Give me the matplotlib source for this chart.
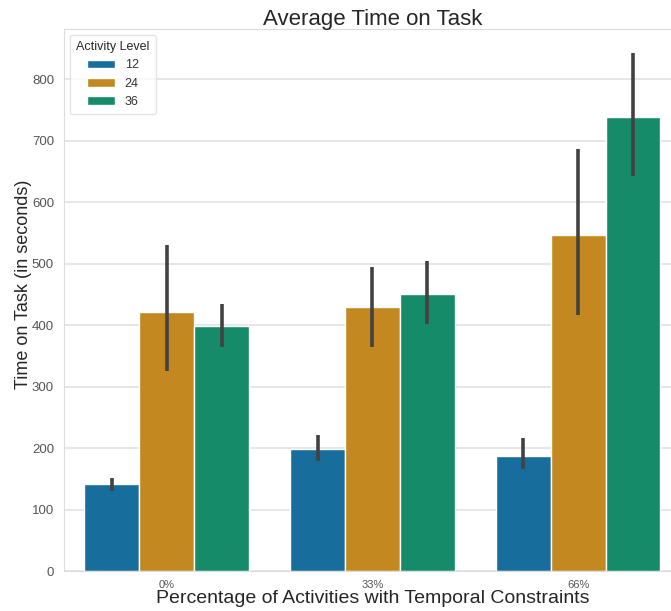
import numpy as np
import matplotlib
matplotlib.use("Agg")
import matplotlib.pyplot as plt
import seaborn as sns

# mean time on task per constraint level and activity count, with CI bounds
constraints = ["0%", "33%", "66%"]
levels = ["12", "24", "36"]
means = {
    "12": [142, 199, 188],
    "24": [422, 430, 546],
    "36": [399, 451, 739],
}
ci_low = {
    "12": [131, 180, 166],
    "24": [325, 364, 416],
    "36": [364, 402, 643],
}
ci_high = {
    "12": [152, 221, 216],
    "24": [531, 495, 686],
    "36": [434, 505, 842],
}

sns.set_style("whitegrid")
plt.rcParams["font.family"] = ["Liberation Sans", "DejaVu Sans"]
colors = sns.color_palette("colorblind", desat=0.75)

fig = plt.figure(figsize=(6.71, 6.11), dpi=100)
ax = fig.add_axes([0.095, 0.065, 0.92, 0.888])

x = np.arange(len(constraints))
width = 0.8 / len(levels)
for i, lvl in enumerate(levels):
    pos = x - 0.4 + width * (i + 0.5)
    ax.bar(pos, means[lvl], width, color=colors[i], edgecolor="white",
           linewidth=1, label=lvl, zorder=2)
    for p, lo, hi in zip(pos, ci_low[lvl], ci_high[lvl]):
        ax.plot([p, p], [lo, hi], color="#424242", lw=2.6, zorder=3,
                solid_capstyle="butt")

ax.set_xlim(-0.5, 2.5)
ax.set_ylim(0, 882)
ax.set_xticks(x)
ax.set_xticklabels(constraints, fontsize=8, color="#555555")
ax.tick_params(axis="y", labelsize=9.5, labelcolor="#555555")
ax.tick_params(axis="x", pad=3)
ax.grid(axis="x", visible=False)
ax.grid(axis="y", color="#e2e2e2", lw=1.2)
ax.set_axisbelow(True)
for s in ax.spines.values():
    s.set_color("#dddddd")

ax.set_title("Average Time on Task", fontsize=16, color="#262626", pad=3)
ax.set_xlabel("Percentage of Activities with Temporal Constraints",
              fontsize=14, color="#262626", labelpad=0)
ax.set_ylabel("Time on Task (in seconds)", fontsize=13, color="#262626")
ax.yaxis.set_label_coords(-0.052, 0.528)

leg = ax.legend(title="Activity Level", loc="upper left", fontsize=9,
                title_fontsize=9, frameon=True, borderpad=0.5,
                handlelength=2.2)
leg.get_frame().set_edgecolor("#dddddd")
for t in leg.get_texts():
    t.set_color("#333333")

fig.savefig("out.png", dpi=100)
